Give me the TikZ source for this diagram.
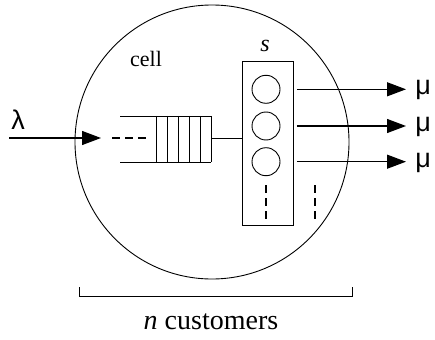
\documentclass[tikz,border=0pt]{standalone}
\usepackage{fontspec}
\setmainfont{Liberation Serif}
\newfontfamily\greekfont{Liberation Sans}
\usetikzlibrary{arrows.meta, positioning, calc}

\begin{document}
\begin{tikzpicture}[x=1pt, y=-1pt, line width=0.9pt,
  flow/.style={-{Triangle[length=19pt, width=14pt]}, line width=1.2pt},
  server/.style={circle, draw, minimum size=28pt, inner sep=0pt},
  rate/.style={font=\fontsize{27}{27}\greekfont, inner sep=0pt},
  dots/.style={line width=2pt, dash pattern=on 8pt off 5pt}]
\useasboundingbox (0,0) rectangle (435,339);

% -- cell ---------------------------------------------------------------
\node[circle, draw, minimum size=274pt, inner sep=0pt] (cell) at (212,142) {};
\node[font=\fontsize{22}{22}\selectfont] (celllbl) at (146,59) {cell};

% -- queue --------------------------------------------------------------
\draw (120,116) -- (211,116) (120,162) -- (211,162);
\foreach \i in {0,...,5}
  \draw (156+\i*11,116) -- (156+\i*11,162);
\coordinate (qin) at (101,138);
\coordinate (qout) at (211,138);
\draw[dots] (112,138) -- (147,138);

% -- arrivals -----------------------------------------------------------
\coordinate (src) at (9,138);
\node[rate] (lambda) at (18,120) {λ};
\draw[flow] (src) -- (qin);

% -- servers ------------------------------------------------------------
\node[draw, minimum width=50.6pt, minimum height=164pt, inner sep=0pt] (bank) at (268,143) {};
\node[font=\fontsize{24}{24}\selectfont\itshape] (slbl) at (265,46) {s};
\draw (qout) -- (qout -| bank.west);

\foreach \y [count=\k] in {89.3,126,161.7} {
  \node[server] (s\k) at (266,\y) {};
  \node[rate, anchor=west] (mu\k) at (415,\y+1) {μ};
  \draw[flow] ([xshift=3pt]s\k -| bank.east) -- ($(mu\k.west)+(-9,-1)$);
}
\draw[dots] (266,185) -- (266,219);
\draw[dots] (315,185) -- (315,219);

% -- population ---------------------------------------------------------
\draw (79,287) -- (79,296) -- (352,296) -- (352,287);
\node[font=\fontsize{28}{28}\selectfont] (pop) at (211,322) {\textit{n} customers};

\end{tikzpicture}
\end{document}
